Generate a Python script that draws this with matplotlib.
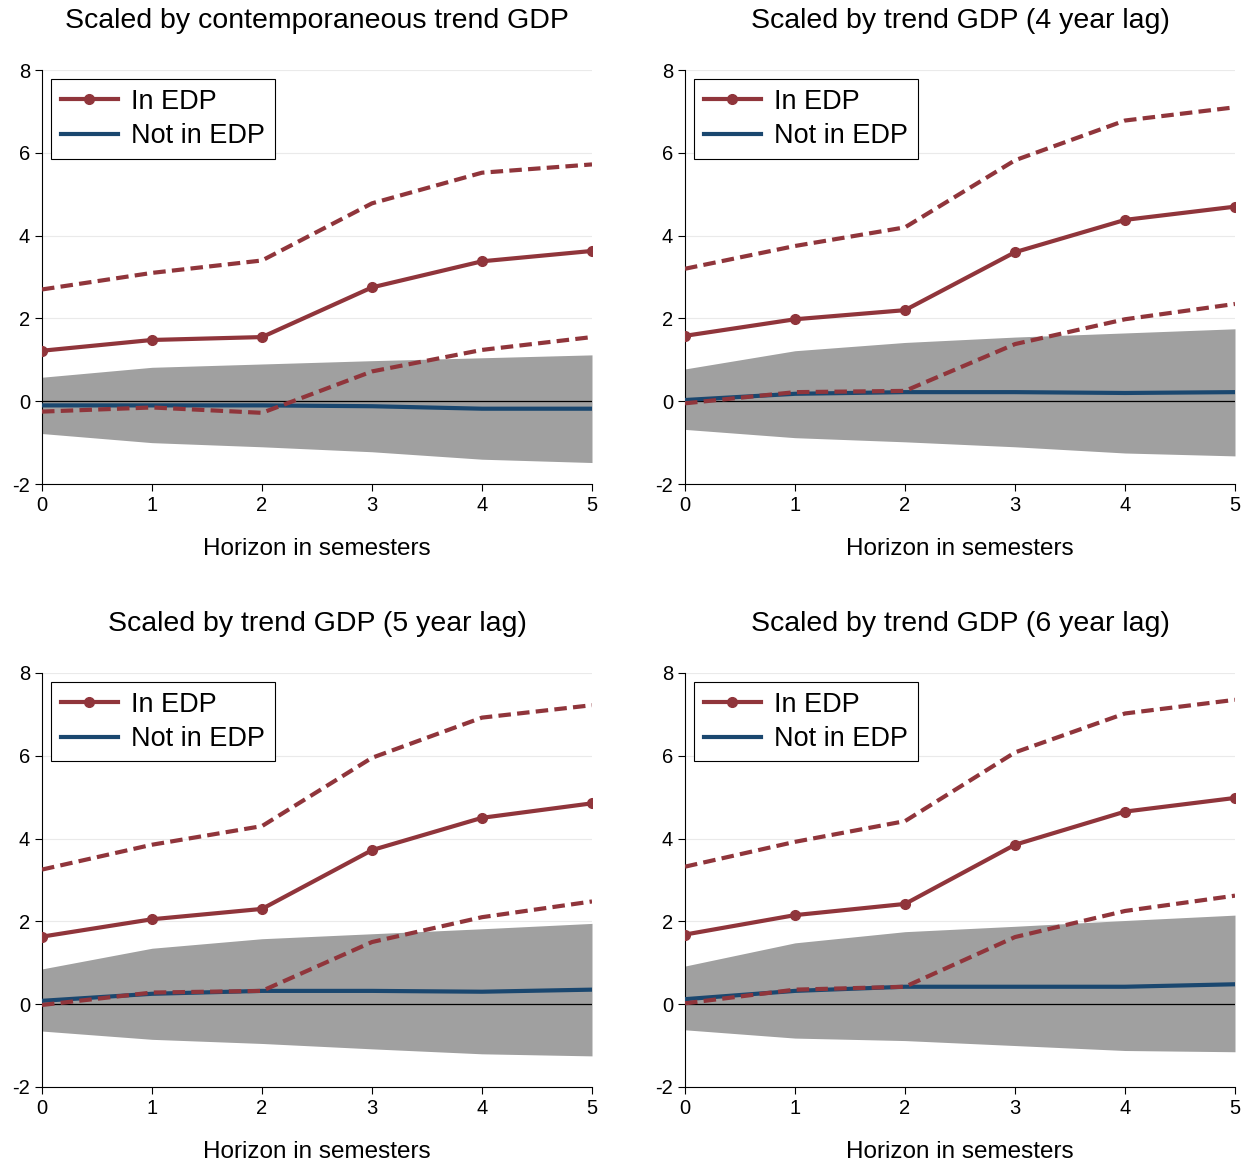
import numpy as np
import matplotlib
matplotlib.use("Agg")
import matplotlib.pyplot as plt

plt.rcParams["font.family"] = ["Liberation Sans", "DejaVu Sans"]
plt.rcParams["axes.unicode_minus"] = False

horizon = [0, 1, 2, 3, 4, 5]
titles = ["Scaled by contemporaneous trend GDP", "Scaled by trend GDP (4 year lag)",
          "Scaled by trend GDP (5 year lag)", "Scaled by trend GDP (6 year lag)"]

edp = [[1.22, 1.48, 1.55, 2.75, 3.38, 3.63],
       [1.58, 1.98, 2.20, 3.60, 4.38, 4.70],
       [1.63, 2.05, 2.30, 3.72, 4.50, 4.85],
       [1.68, 2.15, 2.42, 3.85, 4.65, 4.98]]
edp_hi = [[2.70, 3.10, 3.40, 4.78, 5.52, 5.72],
          [3.20, 3.75, 4.20, 5.82, 6.78, 7.10],
          [3.25, 3.85, 4.30, 5.95, 6.92, 7.22],
          [3.32, 3.92, 4.42, 6.08, 7.02, 7.35]]
edp_lo = [[-0.25, -0.15, -0.28, 0.72, 1.24, 1.55],
          [-0.05, 0.22, 0.25, 1.38, 1.98, 2.35],
          [-0.02, 0.28, 0.32, 1.50, 2.10, 2.48],
          [0.02, 0.35, 0.42, 1.62, 2.25, 2.62]]
notedp = [[-0.10, -0.10, -0.10, -0.12, -0.18, -0.18],
          [0.03, 0.18, 0.22, 0.22, 0.20, 0.22],
          [0.08, 0.25, 0.32, 0.32, 0.30, 0.35],
          [0.12, 0.32, 0.42, 0.42, 0.42, 0.48]]
band_hi = [[0.58, 0.82, 0.90, 0.98, 1.05, 1.12],
           [0.78, 1.22, 1.42, 1.55, 1.65, 1.75],
           [0.85, 1.35, 1.58, 1.70, 1.82, 1.95],
           [0.92, 1.48, 1.75, 1.88, 2.02, 2.15]]
band_lo = [[-0.78, -1.00, -1.10, -1.22, -1.40, -1.48],
           [-0.68, -0.88, -0.98, -1.10, -1.25, -1.32],
           [-0.65, -0.85, -0.95, -1.08, -1.20, -1.25],
           [-0.62, -0.82, -0.88, -1.00, -1.12, -1.15]]

RED = "#90353B"
BLUE = "#1A476F"

fig = plt.figure(figsize=(12.5, 11.65), dpi=100)
positions = [(0.0336, 0.5845), (0.548, 0.5845), (0.0336, 0.067), (0.548, 0.067)]

for i, (x0, y0) in enumerate(positions):
    ax = fig.add_axes([x0, y0, 0.44, 0.3554])
    ax.fill_between(horizon, band_lo[i], band_hi[i], color="#A0A0A0", lw=0, zorder=1)
    ax.axhline(0, color="black", lw=0.9, zorder=2)
    ax.plot(horizon, notedp[i], color=BLUE, lw=3, zorder=3, label="Not in EDP")
    ax.plot(horizon, edp_hi[i], color=RED, lw=3, ls=(0, (3, 1.5)), zorder=4)
    ax.plot(horizon, edp_lo[i], color=RED, lw=3, ls=(0, (3, 1.5)), zorder=4)
    ax.plot(horizon, edp[i], color=RED, lw=3, marker="o", ms=7, zorder=5, label="In EDP")
    ax.set_xlim(0, 5)
    ax.set_ylim(-2, 8)
    ax.set_xticks(horizon)
    ax.set_yticks([-2, 0, 2, 4, 6, 8])
    ax.grid(axis="y", color="#EAEAEA", lw=0.8)
    ax.set_axisbelow(True)
    for s in ("top", "right"):
        ax.spines[s].set_visible(False)
    ax.tick_params(labelsize=14.5, length=5)
    ax.set_xlabel("Horizon in semesters", fontsize=17.5, labelpad=17)
    ax.set_title(titles[i], fontsize=20.5, pad=30)
    h, l = ax.get_legend_handles_labels()
    leg = ax.legend([h[1], h[0]], [l[1], l[0]], loc="upper left", fontsize=19.5,
                    fancybox=False, edgecolor="black", framealpha=1,
                    handlelength=2.1, borderaxespad=0.35, labelspacing=0.3,
                    borderpad=0.35, handletextpad=0.5)
    leg.get_frame().set_linewidth(0.8)

fig.savefig("out.png", dpi=100)
